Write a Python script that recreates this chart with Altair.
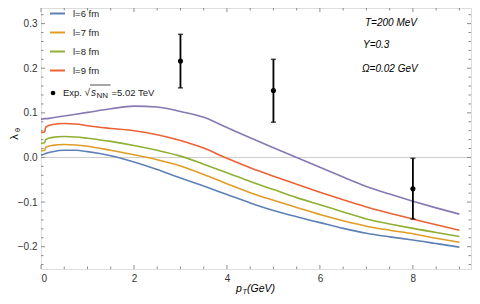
import altair as alt
import pandas as pd

# ---------------- data ----------------
pt = [0, 0.08, 0.1, 0.25, 0.5, 0.75, 1, 1.5, 2, 2.5, 3, 3.5, 4, 4.5, 5, 5.5, 6, 6.5, 7, 7.5, 8, 8.5, 9]

l6 = [0.005, 0.008, 0.009, 0.013, 0.016, 0.016, 0.013, 0.004, -0.010, -0.027, -0.046, -0.064, -0.083,
      -0.102, -0.119, -0.133, -0.146, -0.159, -0.170, -0.178, -0.185, -0.193, -0.201]
l7 = [0.015, 0.016, 0.023, 0.027, 0.029, 0.028, 0.025, 0.016, 0.006, -0.005, -0.019, -0.038, -0.059,
      -0.079, -0.096, -0.112, -0.128, -0.142, -0.154, -0.163, -0.171, -0.181, -0.190]
l8 = [0.032, 0.033, 0.040, 0.045, 0.047, 0.046, 0.043, 0.036, 0.027, 0.016, 0.003, -0.015, -0.034,
      -0.054, -0.072, -0.090, -0.106, -0.122, -0.138, -0.149, -0.159, -0.168, -0.177]
l9 = [0.056, 0.057, 0.068, 0.074, 0.076, 0.075, 0.071, 0.065, 0.060, 0.051, 0.038, 0.021, -0.002,
      -0.023, -0.042, -0.060, -0.078, -0.095, -0.111, -0.125, -0.138, -0.151, -0.163]
extra = [0.086, 0.087, 0.087, 0.089, 0.093, 0.097, 0.101, 0.109, 0.115, 0.113, 0.103, 0.090, 0.067,
         0.044, 0.022, 0.000, -0.022, -0.044, -0.065, -0.082, -0.098, -0.113, -0.127]

series_labels = ["l=6 fm", "l=7 fm", "l=8 fm", "l=9 fm"]
series_colors = ["#5E81B5", "#E19C24", "#8FB032", "#EB6235"]
extra_color = "#8778B3"

exp_pt = [3, 5, 8]
exp_val = [0.216, 0.150, -0.070]
exp_lo = [0.156, 0.079, -0.138]
exp_hi = [0.276, 0.220, -0.002]

x_major = [0, 2, 4, 6, 8]
x_minor = [0.5, 1, 1.5, 2.5, 3, 3.5, 4.5, 5, 5.5, 6.5, 7, 7.5, 8.5, 9]
y_major = [-0.2, -0.1, 0.0, 0.1, 0.2, 0.3]
y_minor = [-0.24, -0.22, -0.18, -0.16, -0.14, -0.12, -0.08, -0.06, -0.04, -0.02,
           0.02, 0.04, 0.06, 0.08, 0.12, 0.14, 0.16, 0.18, 0.22, 0.24, 0.26, 0.28, 0.32]

annot_texts = ["T=200 MeV", "Y=0.3", "\u03a9=0.02 GeV"]

# ---------------- build ----------------
W, H = 430, 261
FONT = "Liberation Sans"
FRAME = "#8c8c8c"

rows = []
for lab, ys in zip(series_labels, [l6, l7, l8, l9]):
    for x, y in zip(pt, ys):
        rows.append({"pt": x, "lam": y, "series": lab})
df = pd.DataFrame(rows)
df_extra = pd.DataFrame({"pt": pt, "lam": extra})
df_exp = pd.DataFrame({"pt": exp_pt, "lam": exp_val, "lo": exp_lo, "hi": exp_hi})

xscale = alt.Scale(domain=[0, 9.25], nice=False, zero=False)
yscale = alt.Scale(domain=[-0.25, 0.335], nice=False, zero=False)

xaxis = alt.Axis(values=x_major, format="d", ticks=False, domain=False, grid=False, title=None,
                 labelFont=FONT, labelFontSize=10, labelColor="#333", labelPadding=4)
yaxis = alt.Axis(values=y_major, format=".1f", ticks=False, domain=False, grid=False, title=None,
                 labelFont=FONT, labelFontSize=10, labelColor="#333", labelPadding=4,
                 labelExpr="replace(datum.label, '-', '\u2212')")

zero = alt.Chart(pd.DataFrame({"z": [0.0]})).mark_rule(color="#cccccc", strokeWidth=1).encode(
    y=alt.Y("z:Q", scale=yscale, axis=yaxis))

lines = alt.Chart(df).mark_line(strokeWidth=1.6, interpolate="monotone").encode(
    x=alt.X("pt:Q", scale=xscale, axis=xaxis),
    y=alt.Y("lam:Q", scale=yscale, axis=yaxis),
    color=alt.Color("series:N", scale=alt.Scale(domain=series_labels, range=series_colors),
                    legend=alt.Legend(orient="none", legendX=8, legendY=-3, title=None,
                                      symbolType="stroke", symbolSize=225, symbolStrokeWidth=2,
                                      labelFont=FONT, labelFontSize=9.5, labelColor="#222",
                                      rowPadding=6, labelOffset=7, padding=0)),
)

extra_line = alt.Chart(df_extra).mark_line(strokeWidth=1.6, interpolate="monotone",
                                           color=extra_color).encode(
    x=alt.X("pt:Q", scale=xscale), y=alt.Y("lam:Q", scale=yscale))

err = alt.Chart(df_exp).mark_errorbar(ticks={"size": 5, "thickness": 1.5, "color": "black"},
                                      rule={"strokeWidth": 1.8, "color": "black"}).encode(
    x=alt.X("pt:Q", scale=xscale), y=alt.Y("lo:Q", scale=yscale), y2="hi:Q")
pts = alt.Chart(df_exp).mark_circle(size=26, color="black", opacity=1).encode(
    x=alt.X("pt:Q", scale=xscale), y=alt.Y("lam:Q", scale=yscale))


def tick_layer(vals, axis, edge, length):
    d = pd.DataFrame({"v": vals})
    m = alt.Chart(d).mark_rule(color=FRAME, strokeWidth=1)
    if axis == "x":
        y0 = H if edge == "bottom" else 0
        y1 = H - length if edge == "bottom" else length
        return m.encode(x=alt.X("v:Q", scale=xscale), y=alt.value(y0), y2=alt.value(y1))
    x0 = 0 if edge == "left" else W
    x1 = length if edge == "left" else W - length
    return m.encode(y=alt.Y("v:Q", scale=yscale), x=alt.value(x0), x2=alt.value(x1))


ticks = []
for edge in ["bottom", "top"]:
    ticks.append(tick_layer(x_major, "x", edge, 4))
    ticks.append(tick_layer(x_minor, "x", edge, 2.5))
for edge in ["left", "right"]:
    ticks.append(tick_layer(y_major, "y", edge, 4))
    ticks.append(tick_layer(y_minor, "y", edge, 2.5))


def txt(s, x, y, size=10, italic=False, align="left", angle=0, color="black"):
    kw = dict(align=align, baseline="middle", font=FONT, fontSize=size, color=color)
    if italic:
        kw["fontStyle"] = "italic"
    if angle:
        kw["angle"] = angle
    return alt.Chart(pd.DataFrame({"t": [s]})).mark_text(**kw).encode(
        x=alt.value(x), y=alt.value(y), text="t:N")


texts = [
    txt(annot_texts[0], 324, 15, italic=True),
    txt(annot_texts[1], 322, 37, italic=True),
    txt(annot_texts[2], 321, 61, italic=True),
    # experiment legend entry
    txt("Exp.", 22, 85, size=9.5, color="#222"),
    txt("\u221a", 43.5, 85, size=10, color="#222"),
    txt("s", 50, 85, size=10, italic=True, color="#222"),
    txt("NN", 55.5, 88, size=8, color="#222"),
    txt("=5.02 TeV", 70.5, 85, size=9.5, color="#222"),
    # axis titles
    txt("p", 195, 281, size=10.5, italic=True),
    txt("T", 201.5, 284, size=7, italic=True),
    txt("(GeV)", 206, 281, size=10.5, italic=True),
    txt("\u03bb", -26, 129, size=11, align="center", angle=270),
    txt("\u03b8", -23, 122, size=7.5, align="center", angle=270),
]
exp_dot = alt.Chart(pd.DataFrame({"t": [0]})).mark_circle(size=22, color="black", opacity=1).encode(
    x=alt.value(12), y=alt.value(85))
overline = alt.Chart(pd.DataFrame({"t": [0]})).mark_rule(color="#222", strokeWidth=0.8).encode(
    x=alt.value(49), x2=alt.value(69.5), y=alt.value(77))

chart = alt.layer(zero, lines, extra_line, err, pts, *ticks, *texts, exp_dot, overline).properties(
    width=W, height=H,
    padding={"left": 33, "top": 0, "right": 1, "bottom": 26},
    autosize=alt.AutoSizeParams(type="none"),
).configure_view(stroke=FRAME, strokeWidth=1).configure(background="white")

chart.save("out.html", embed_options={"renderer": "svg", "actions": False})
